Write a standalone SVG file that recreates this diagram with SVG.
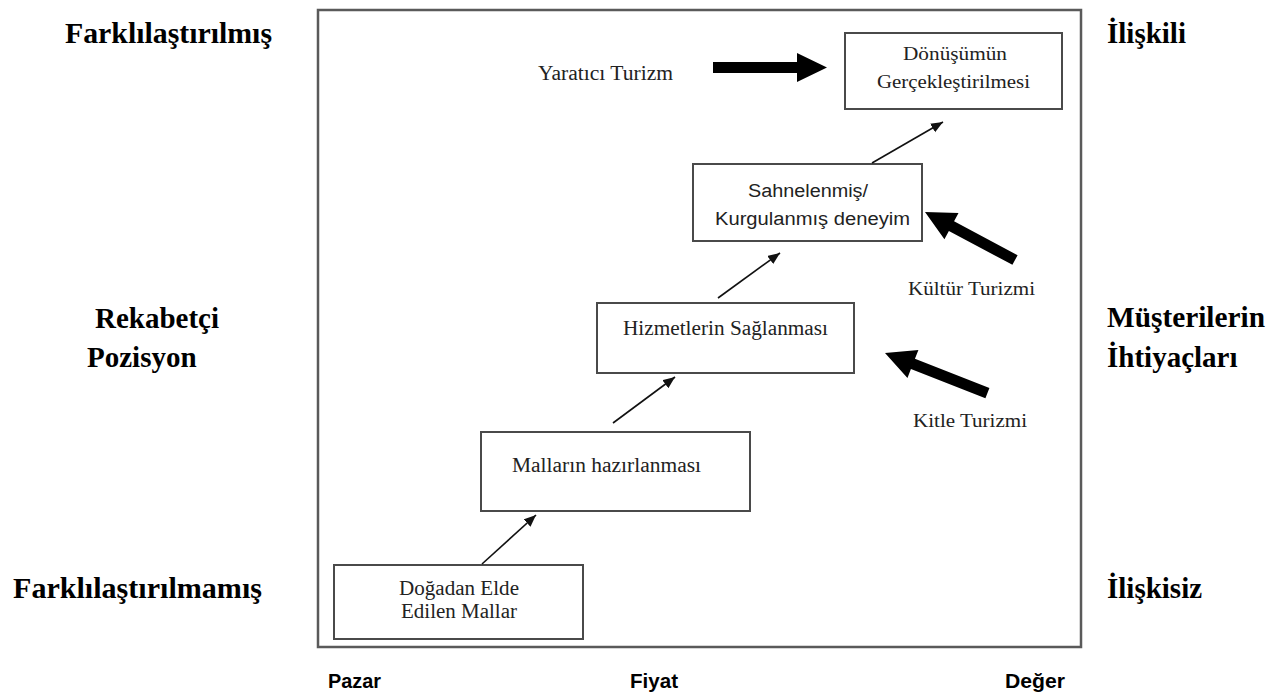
<svg xmlns="http://www.w3.org/2000/svg" width="1283" height="696" viewBox="0 0 1283 696">
  <defs>
    <style>
      .frame { fill: none; stroke: #5a5a5a; stroke-width: 2.5; }
      .box { fill: #ffffff; stroke: #4a4a4a; stroke-width: 2; }
      .serif { font-family: "Liberation Serif", "Times New Roman", serif; fill: #222; }
      .sans { font-family: "Liberation Sans", Arial, sans-serif; fill: #222; }
      .side { font-family: "Liberation Serif", "Times New Roman", serif; font-weight: bold; font-size: 29px; fill: #000; }
      .axis { font-family: "Liberation Sans", Arial, sans-serif; font-weight: bold; font-size: 20px; fill: #000; }
      .link { stroke: #111; stroke-width: 1.6; fill: none; marker-end: url(#head); }
      .big { fill: #000; }
    </style>
    <marker id="head" markerUnits="userSpaceOnUse" markerWidth="14" markerHeight="12" refX="12" refY="5" orient="auto">
      <path d="M0,0 L12,5 L0,10 Z" fill="#111"/>
    </marker>
  </defs>

  <rect width="1283" height="696" fill="#ffffff"/>

  <!-- outer frame -->
  <rect class="frame" x="318" y="10" width="763" height="637"/>

  <!-- side labels -->
  <g id="labels-left">
    <text class="side" x="65" y="43" textLength="207" lengthAdjust="spacingAndGlyphs">Farklılaştırılmış</text>
    <text class="side" x="95" y="328">Rekabetçi</text>
    <text class="side" x="87" y="367">Pozisyon</text>
    <text class="side" x="13" y="598" textLength="249" lengthAdjust="spacingAndGlyphs">Farklılaştırılmamış</text>
  </g>
  <g id="labels-right">
    <text class="side" x="1107" y="43">İlişkili</text>
    <text class="side" x="1107" y="327" textLength="158" lengthAdjust="spacingAndGlyphs">Müşterilerin</text>
    <text class="side" x="1107" y="367">İhtiyaçları</text>
    <text class="side" x="1107" y="598">İlişkisiz</text>
  </g>
  <g id="labels-bottom">
    <text class="axis" x="328" y="688" textLength="53" lengthAdjust="spacingAndGlyphs">Pazar</text>
    <text class="axis" x="630" y="688" textLength="48" lengthAdjust="spacingAndGlyphs">Fiyat</text>
    <text class="axis" x="1005" y="688" textLength="60" lengthAdjust="spacingAndGlyphs">Değer</text>
  </g>

  <!-- stages -->
  <g id="node-dogadan">
    <rect class="box" x="334" y="565" width="249" height="74"/>
    <text class="serif" font-size="20" x="399" y="595" textLength="120" lengthAdjust="spacingAndGlyphs">Doğadan Elde</text>
    <text class="serif" font-size="20" x="401" y="618" textLength="116" lengthAdjust="spacingAndGlyphs">Edilen Mallar</text>
  </g>
  <g id="node-mallar">
    <rect class="box" x="481" y="432" width="269" height="79"/>
    <text class="serif" font-size="20" x="512" y="472" textLength="189" lengthAdjust="spacingAndGlyphs">Malların hazırlanması</text>
  </g>
  <g id="node-hizmet">
    <rect class="box" x="597" y="303" width="257" height="70"/>
    <text class="serif" font-size="20" x="623" y="335" textLength="205" lengthAdjust="spacingAndGlyphs">Hizmetlerin Sağlanması</text>
  </g>
  <g id="node-deneyim">
    <rect class="box" x="693" y="164" width="229" height="77"/>
    <text class="sans" font-size="18" x="748" y="197" textLength="120" lengthAdjust="spacingAndGlyphs">Sahnelenmiş/</text>
    <text class="sans" font-size="18" x="715" y="225" textLength="195" lengthAdjust="spacingAndGlyphs">Kurgulanmış deneyim</text>
  </g>
  <g id="node-donusum">
    <rect class="box" x="845" y="33" width="217" height="76"/>
    <text class="serif" font-size="19" x="903" y="60" textLength="104" lengthAdjust="spacingAndGlyphs">Dönüşümün</text>
    <text class="serif" font-size="19" x="877" y="88" textLength="153" lengthAdjust="spacingAndGlyphs">Gerçekleştirilmesi</text>
  </g>

  <!-- tourism types -->
  <g id="node-yaratici">
    <text class="serif" font-size="20" x="538" y="80" textLength="135" lengthAdjust="spacingAndGlyphs">Yaratıcı Turizm</text>
  </g>
  <g id="node-kultur">
    <text class="serif" font-size="19" x="908" y="295" textLength="127" lengthAdjust="spacingAndGlyphs">Kültür Turizmi</text>
  </g>
  <g id="node-kitle">
    <text class="serif" font-size="19" x="913" y="427" textLength="114" lengthAdjust="spacingAndGlyphs">Kitle Turizmi</text>
  </g>

  <!-- connectors -->
  <g id="connectors">
    <line class="link" x1="482" y1="564" x2="536" y2="515"/>
    <line class="link" x1="613" y1="423" x2="675" y2="377"/>
    <line class="link" x1="718" y1="298" x2="780" y2="253"/>
    <line class="link" x1="872" y1="163" x2="943" y2="122"/>

    <polygon class="big" points="713,62 797,62 797,53 827,67.5 797,82 797,73 713,73"/>
    <g transform="translate(925,212) rotate(208.07)">
      <polygon class="big" points="0,0 -30,-15 -30,-5.5 -102,-5.5 -102,5.5 -30,5.5 -30,15"/>
    </g>
    <g transform="translate(885,353) rotate(201.4)">
      <polygon class="big" points="0,0 -30,-15 -30,-5.5 -110,-5.5 -110,5.5 -30,5.5 -30,15"/>
    </g>
  </g>
</svg>
